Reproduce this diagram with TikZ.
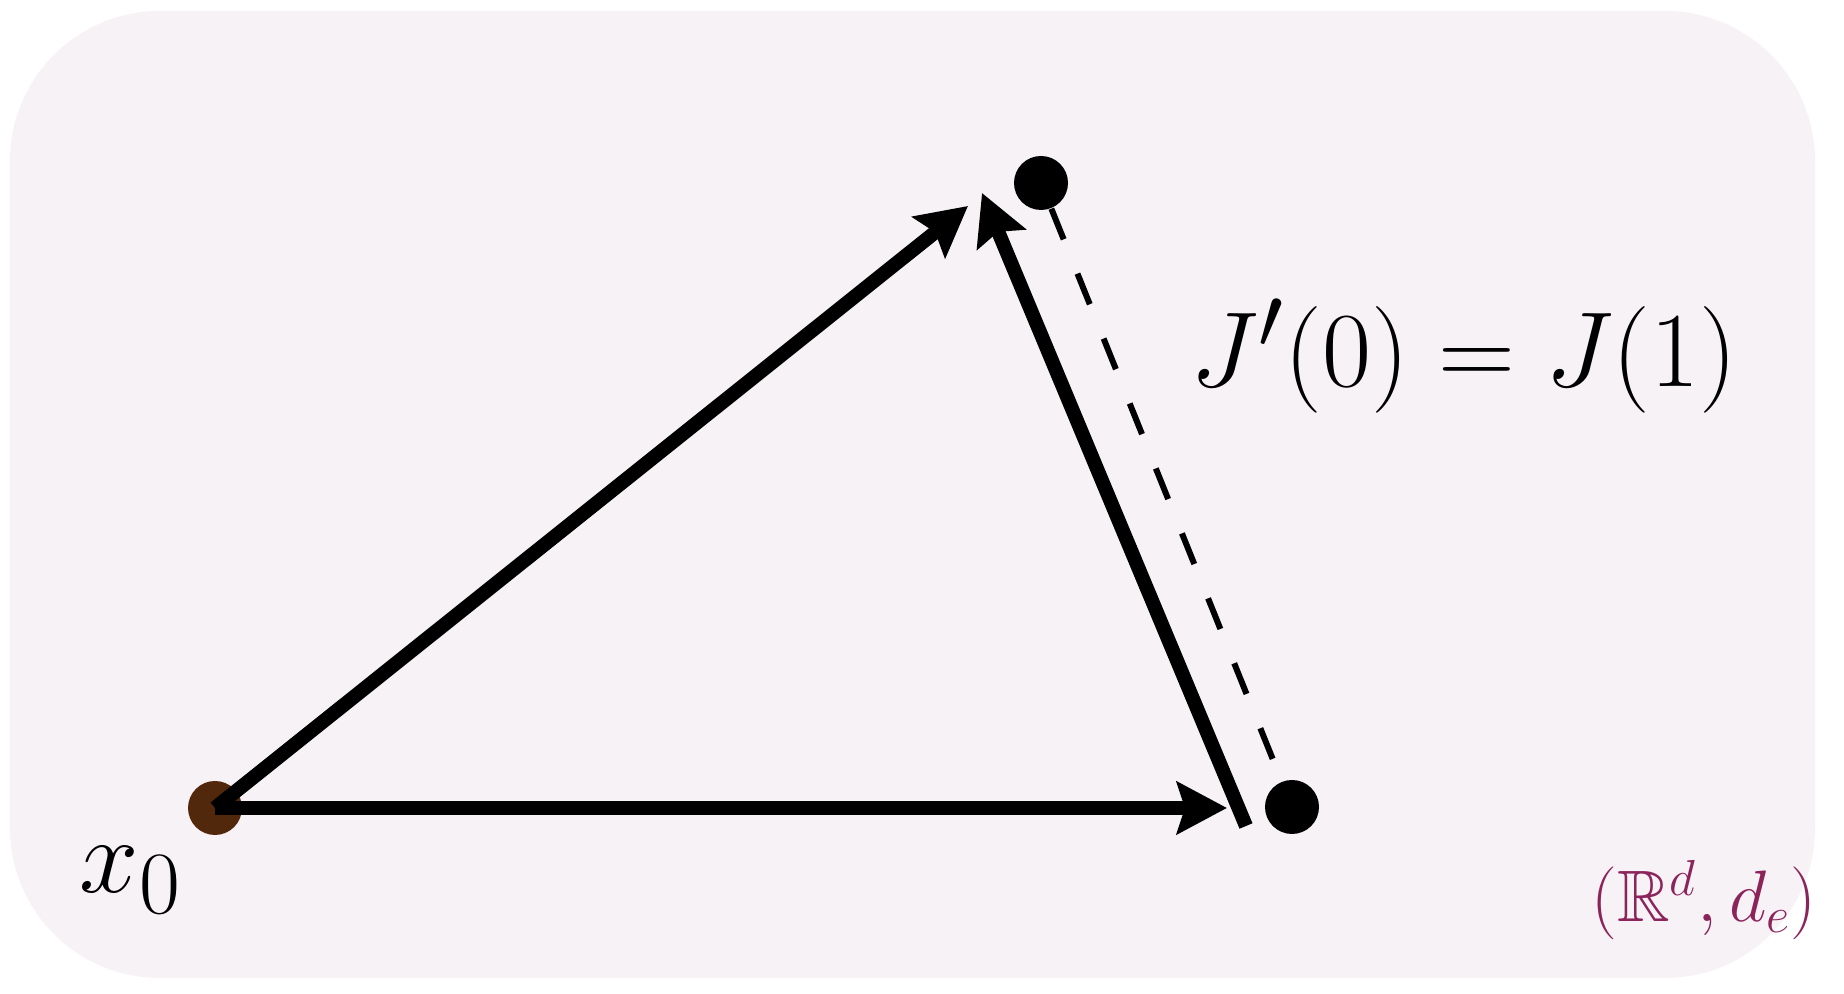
\documentclass[tikz,border=0pt]{standalone}
\usepackage{amssymb}
\usetikzlibrary{arrows.meta}
\definecolor{bgpink}{RGB}{247,242,246}
\definecolor{xbrown}{RGB}{82,40,12}
\definecolor{rdpurple}{RGB}{140,36,92}
\begin{document}
\begin{tikzpicture}[
		dot/.style={circle, fill, inner sep=0, minimum size=5.4mm},
		vec/.style={line width=4pt, -{Stealth[length=5mm,width=5.2mm,inset=0.8mm]}},
		big/.style={font=\Huge, scale=1.22}]
		\useasboundingbox (0,0) rectangle (18.44,9.94);
		\fill[bgpink, rounded corners=15mm] (0.10,0.16) rectangle (18.15,9.83);
		\node[dot, xbrown] (x0) at (2.15,1.86) {};
		\node[dot] (top) at (10.41,8.11) {};
		\node[dot] (end) at (12.92,1.87) {};
		\coordinate (tipA) at (9.68,7.88);
		\coordinate (tipH) at (12.27,1.86);
		\coordinate (tailB) at (12.46,1.68);
		\coordinate (tipB) at (9.82,8.01);
		\draw[line width=1.7pt, dash pattern=on 3.3mm off 3.7mm] (top) -- (end);
		\draw[vec] (x0.center) -- (tipA);
		\draw[vec] (x0.center) -- (tipH);
		\draw[vec] (tailB) -- (tipB);
		\node[big] (jac) at (14.64,6.38) {$J'(0) = J(1)$};
		\node[big] (lab) at (1.31,1.14) {$x_0$};
		\node[font=\huge, text=rdpurple] (sp) at (17.04,0.94) {$(\mathbb{R}^d, d_e)$};
	\end{tikzpicture}
\end{document}
